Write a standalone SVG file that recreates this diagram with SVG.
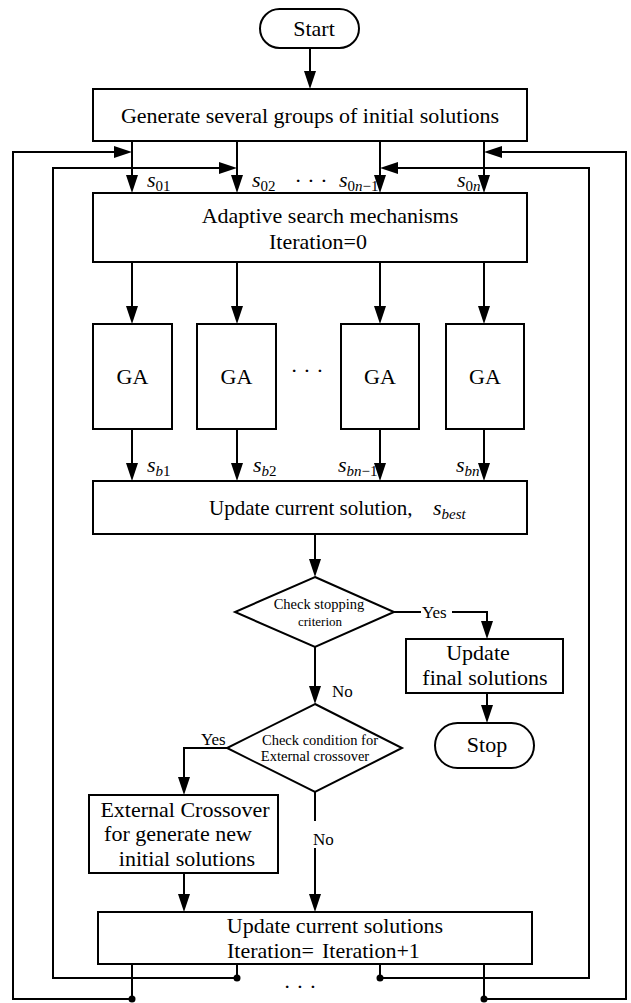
<svg xmlns="http://www.w3.org/2000/svg" width="631" height="1003" viewBox="0 0 631 1003">
<defs>
<marker id="arr" viewBox="0 0 18 12" refX="15" refY="6" markerWidth="18" markerHeight="12" markerUnits="userSpaceOnUse" orient="auto">
<path d="M0,0 L18,6 L0,12 Z" fill="#000"/>
</marker>
<style>
.box{fill:#fff;stroke:#000;stroke-width:2}
.ln{fill:none;stroke:#000;stroke-width:2}
.ar{fill:none;stroke:#000;stroke-width:2;marker-end:url(#arr)}
.t{font-family:"Liberation Serif","Times New Roman",serif;font-size:22px;fill:#000}
.c{text-anchor:middle}
.sm{font-family:"Liberation Serif","Times New Roman",serif;font-size:14.5px;fill:#000;text-anchor:middle}
.yn{font-family:"Liberation Serif","Times New Roman",serif;font-size:17px;fill:#000}
.v{font-style:italic}
.sub{font-size:15px}
</style>
</defs>
<rect width="631" height="1003" fill="#fff"/>

<g id="connectors">
<line class="ar" x1="310" y1="48" x2="310" y2="86"/>
<line class="ar" x1="132" y1="141" x2="132" y2="190"/>
<line class="ar" x1="237" y1="141" x2="237" y2="190"/>
<line class="ar" x1="380" y1="141" x2="380" y2="190"/>
<line class="ar" x1="484" y1="141" x2="484" y2="190"/>
<line class="ar" x1="132" y1="262" x2="132" y2="321"/>
<line class="ar" x1="237" y1="262" x2="237" y2="321"/>
<line class="ar" x1="380" y1="262" x2="380" y2="321"/>
<line class="ar" x1="484" y1="262" x2="484" y2="321"/>
<line class="ar" x1="132" y1="429" x2="132" y2="478"/>
<line class="ar" x1="237" y1="429" x2="237" y2="478"/>
<line class="ar" x1="380" y1="429" x2="380" y2="478"/>
<line class="ar" x1="484" y1="429" x2="484" y2="478"/>
<line class="ar" x1="315" y1="534" x2="315" y2="574"/>
<line class="ln" x1="394" y1="612" x2="421" y2="612"/>
<polyline class="ar" points="452,612 487,612 487,636"/>
<line class="ar" x1="487" y1="693" x2="487" y2="720"/>
<line class="ar" x1="315" y1="647" x2="315" y2="701"/>
<polyline class="ar" points="227,748 184,748 184,792"/>
<line class="ar" x1="184" y1="873" x2="184" y2="909"/>
<line class="ln" x1="315" y1="792" x2="315" y2="821"/>
<line class="ar" x1="315" y1="848" x2="315" y2="909"/>
<polyline class="ar" points="132,964 132,999 13,999 13,152 129,152"/>
<polyline class="ar" points="237,964 237,978 53,978 53,168 234,168"/>
<polyline class="ar" points="380,964 380,978 589,978 589,168 383,168"/>
<polyline class="ar" points="484,964 484,999 626,999 626,152 487,152"/>
<circle cx="132" cy="999" r="3.5" fill="#000"/>
<circle cx="237" cy="978" r="3.5" fill="#000"/>
<circle cx="380" cy="978" r="3.5" fill="#000"/>
<circle cx="484" cy="999" r="3.5" fill="#000"/>
<text class="yn" x="422" y="618">Yes</text>
<text class="yn" x="332" y="697">No</text>
<text class="yn" x="201" y="745">Yes</text>
<text class="yn" x="313" y="845">No</text>
<text class="t c" x="300" y="994">· · ·</text>
</g>

<g id="start">
<rect class="box" x="260" y="9" width="99" height="39" rx="19.5"/>
<text class="t c" x="314" y="36">Start</text>
</g>

<g id="generate">
<rect class="box" x="93" y="89" width="434" height="52"/>
<text class="t c" x="310" y="123">Generate several groups of initial solutions</text>
</g>

<g id="labels-top">
<text class="t" x="147" y="187"><tspan class="v">s</tspan><tspan class="sub" dy="4">01</tspan></text>
<text class="t" x="252" y="187"><tspan class="v">s</tspan><tspan class="sub" dy="4">02</tspan></text>
<text class="t c" x="311" y="188">· · ·</text>
<text class="t" x="339" y="187"><tspan class="v">s</tspan><tspan class="sub" dy="4">0<tspan class="v">n</tspan>−1</tspan></text>
<text class="t" x="457" y="187"><tspan class="v">s</tspan><tspan class="sub" dy="4">0<tspan class="v">n</tspan></tspan></text>
</g>

<g id="adaptive">
<rect class="box" x="93" y="193" width="434" height="69"/>
<text class="t c" x="330" y="223">Adaptive search mechanisms</text>
<text class="t c" x="318" y="249">Iteration=0</text>
</g>

<g id="ga1">
<rect class="box" x="93" y="324" width="79" height="105"/>
<text class="t c" x="132.5" y="384">GA</text>
</g>
<g id="ga2">
<rect class="box" x="197" y="324" width="79" height="105"/>
<text class="t c" x="236.5" y="384">GA</text>
</g>
<text class="t c" x="307" y="378">· · ·</text>
<g id="ga3">
<rect class="box" x="341" y="324" width="78" height="105"/>
<text class="t c" x="380" y="384">GA</text>
</g>
<g id="ga4">
<rect class="box" x="446" y="324" width="78" height="105"/>
<text class="t c" x="485" y="384">GA</text>
</g>

<g id="labels-b">
<text class="t" x="147" y="472"><tspan class="v">s</tspan><tspan class="sub v" dy="4">b</tspan><tspan class="sub" >1</tspan></text>
<text class="t" x="253" y="472"><tspan class="v">s</tspan><tspan class="sub v" dy="4">b</tspan><tspan class="sub">2</tspan></text>
<text class="t" x="338" y="472"><tspan class="v">s</tspan><tspan class="sub v" dy="4">bn</tspan><tspan class="sub">−1</tspan></text>
<text class="t" x="456" y="472"><tspan class="v">s</tspan><tspan class="sub v" dy="4">bn</tspan></text>
</g>

<g id="update-current">
<rect class="box" x="93" y="481" width="434" height="53"/>
<text class="t" x="209" y="515" style="font-size:21px">Update current solution,</text>
<text class="t" x="433" y="515"><tspan class="v">s</tspan><tspan class="sub v" dy="4">best</tspan></text>
</g>

<g id="check-stop">
<polygon class="box" points="315,577 394,612 315,647 235,612"/>
<text class="sm" x="319" y="609">Check stopping</text>
<text class="sm" x="320" y="626" style="font-size:13px">criterion</text>
</g>

<g id="update-final">
<rect class="box" x="406" y="639" width="157" height="54"/>
<text class="t c" x="478" y="660">Update</text>
<text class="t c" x="485" y="685">final solutions</text>
</g>

<g id="stop">
<rect class="box" x="435" y="723" width="99" height="45" rx="22.5"/>
<text class="t c" x="487" y="752">Stop</text>
</g>

<g id="check-cross">
<polygon class="box" points="315,704 402,748 315,792 227,748"/>
<text class="sm" x="320" y="745">Check condition for</text>
<text class="sm" x="315" y="761">External crossover</text>
</g>

<g id="external">
<rect class="box" x="89" y="795" width="189" height="78"/>
<text class="t c" x="185" y="817">External Crossover</text>
<text class="t c" x="178" y="841">for generate new</text>
<text class="t c" x="187" y="866">initial solutions</text>
</g>

<g id="update-solutions">
<rect class="box" x="98" y="912" width="434" height="52"/>
<text class="t c" x="335" y="933">Update current solutions</text>
<text class="t" x="227" y="958">Iteration=<tspan dx="8">Iteration+1</tspan></text>
</g>
</svg>
